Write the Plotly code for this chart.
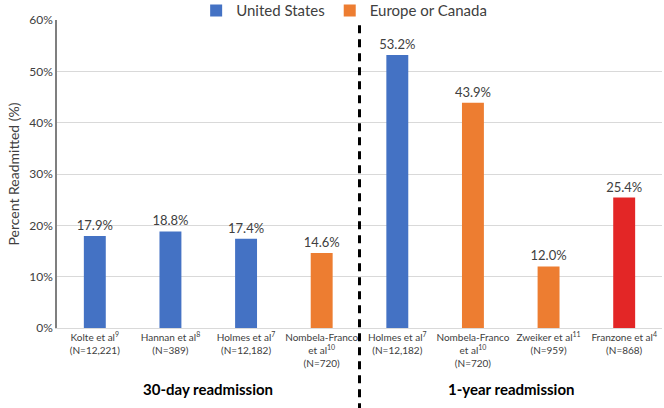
import plotly.graph_objects as go

tick_labels = [
    "Kolte et al<sup>9</sup><br>(N=12,221)",
    "Hannan et al<sup>8</sup><br>(N=389)",
    "Holmes et al<sup>7</sup><br>(N=12,182)",
    "Nombela-Franco<br>et al<sup>10</sup><br>(N=720)",
    "Holmes et al<sup>7</sup><br>(N=12,182)",
    "Nombela-Franco<br>et al<sup>10</sup><br>(N=720)",
    "Zweiker et al<sup>11</sup><br>(N=959)",
    "Franzone et al<sup>4</sup><br>(N=868)",
]
positions = list(range(8))

us_pos = [0, 1, 2, 4]
us_vals = [17.9, 18.8, 17.4, 53.2]
eu_pos = [3, 5, 6]
eu_vals = [14.6, 43.9, 12.0]
red_pos = [7]
red_vals = [25.4]

group_labels = ["30-day readmission", "1-year readmission"]
group_centers = [1.5, 5.5]

FONT = "Lato, 'Open Sans', sans-serif"
TXT = "#404040"

fig = go.Figure()

def add(pos, vals, color, name, show):
    fig.add_trace(go.Bar(
        x=pos, y=vals, name=name, showlegend=show,
        marker=dict(color=color, line=dict(width=0)),
        width=0.29,
        text=[f"{v:.1f}%" for v in vals], textposition="outside",
        constraintext="none",
        textfont=dict(size=13, color=TXT, family=FONT),
        cliponaxis=False,
    ))

add(us_pos, us_vals, "#4472C4", "United States", True)
add(eu_pos, eu_vals, "#ED7D31", "Europe or Canada", True)
add(red_pos, red_vals, "#E32626", "Other", False)

fig.add_shape(type="line", xref="x", yref="paper", x0=3.5, x1=3.5,
              y0=-0.27, y1=1.0, line=dict(color="black", width=3, dash="8px,6px"))

for lab, c in zip(group_labels, group_centers):
    fig.add_annotation(x=c, xref="x", y=-0.198, yref="paper", text=f"<b>{lab}</b>",
                       showarrow=False, font=dict(size=15, color="black", family=FONT),
                       xanchor="center", yanchor="middle")

fig.update_layout(
    width=664, height=408,
    margin=dict(l=57, r=2, t=20, b=80, autoexpand=False),
    paper_bgcolor="white", plot_bgcolor="white",
    barmode="overlay",
    font=dict(family=FONT, color=TXT),
    legend=dict(orientation="h", x=0.23, xanchor="left", y=1.03, yanchor="middle",
                font=dict(size=15, color=TXT, family=FONT), itemwidth=30,
                bgcolor="rgba(0,0,0,0)", tracegroupgap=0),
    showlegend=True,
)
fig.update_xaxes(
    tickmode="array", tickvals=positions, ticktext=tick_labels,
    range=[-0.5, 7.5], showgrid=False, zeroline=False,
    showline=True, linecolor="#d9d9d9", linewidth=1,
    ticks="", tickfont=dict(size=10, color=TXT, family=FONT),
)
fig.update_yaxes(
    range=[0, 60], dtick=10, ticksuffix="%",
    showgrid=True, gridcolor="#d9d9d9", gridwidth=1,
    zeroline=False, showline=True, linecolor="#7f7f7f", linewidth=1.5,
    ticks="", tickfont=dict(size=12, color=TXT, family=FONT),
    title=dict(text="Percent Readmitted (%)", font=dict(size=14, color=TXT, family=FONT), standoff=6),
)

fig.write_html("out.html", config={"displayModeBar": False},
               post_script="document.body.style.margin='0';document.body.style.padding='0';")
